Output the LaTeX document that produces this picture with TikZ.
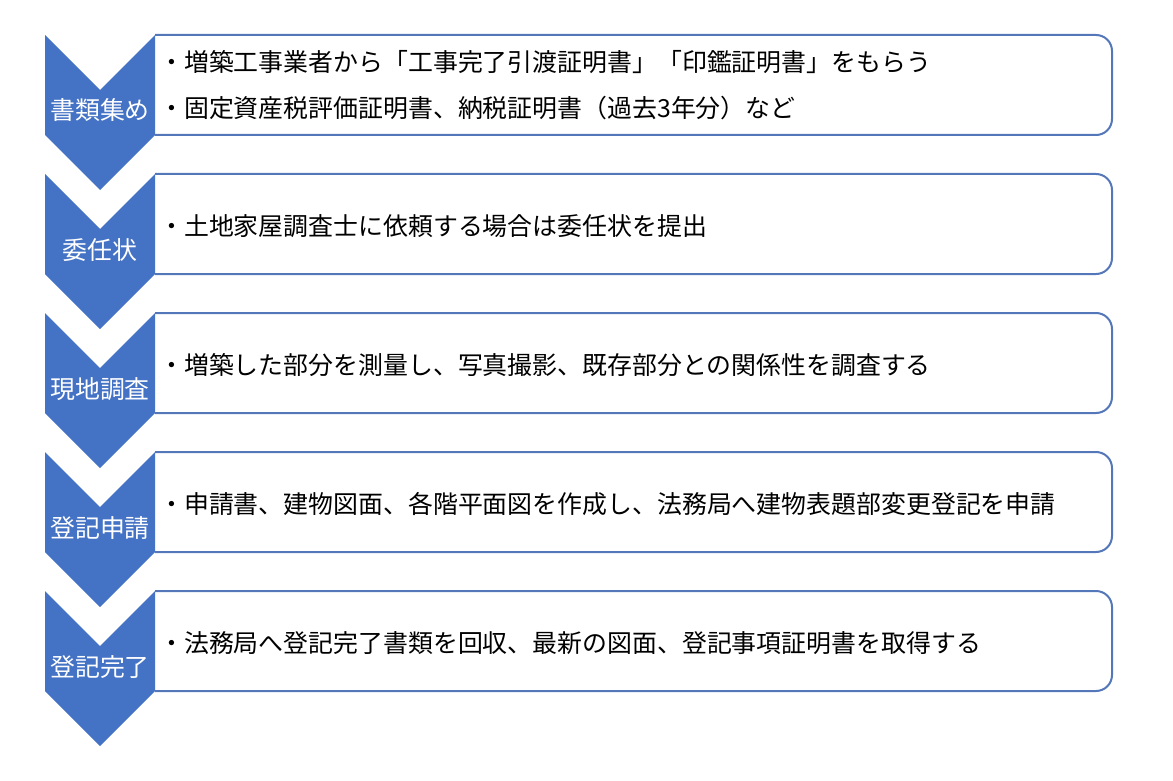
\documentclass[tikz,border=0pt]{standalone}
\usepackage{fontspec}
\newfontfamily\jpfont{Noto Sans CJK JP}
\definecolor{chevblue}{RGB}{68,114,196}
\definecolor{boxblue}{RGB}{84,119,186}

\begin{document}
\begin{tikzpicture}[x=1pt,y=-1pt,
    chevron/.style={fill=chevblue},
    descbox/.style={draw=boxblue, line width=2pt, rounded corners=16pt},
    steplabel/.style={anchor=base, text=white, inner sep=0pt, font=\jpfont\fontsize{24.9}{30}\selectfont},
    desctext/.style={anchor=base west, inner sep=0pt, font=\jpfont\fontsize{24.9}{30}\selectfont}]

\useasboundingbox (0,0) rectangle (1173,781);

\draw[descbox] (155,35)--(1112,35)--(1112,135)--(155,135);
\draw[descbox] (155,174)--(1112,174)--(1112,274)--(155,274);
\draw[descbox] (155,313)--(1112,313)--(1112,413)--(155,413);
\draw[descbox] (155,452)--(1112,452)--(1112,552)--(155,552);
\draw[descbox] (155,591)--(1112,591)--(1112,691)--(155,691);

\fill[chevron] (45,35)--(100,90)--(155,35)--(155,135)--(100,190)--(45,135)--cycle;
\fill[chevron] (45,174)--(100,229)--(155,174)--(155,274)--(100,329)--(45,274)--cycle;
\fill[chevron] (45,313)--(100,368)--(155,313)--(155,413)--(100,468)--(45,413)--cycle;
\fill[chevron] (45,452)--(100,507)--(155,452)--(155,552)--(100,607)--(45,552)--cycle;
\fill[chevron] (45,591)--(100,646)--(155,591)--(155,691)--(100,746)--(45,691)--cycle;

\node[steplabel] (label1) at (100,119.5) {書類集め};
\node[steplabel] (label2) at (100,259.5) {委任状};
\node[steplabel] (label3) at (100,398.5) {現地調査};
\node[steplabel] (label4) at (100,537.5) {登記申請};
\node[steplabel] (label5) at (100,676.5) {登記完了};

\node[desctext] (desc1a) at (159,71.5) {・増築工事業者から「工事完了引渡証明書」「印鑑証明書」をもらう};
\node[desctext] (desc1b) at (159,117.5) {・固定資産税評価証明書、納税証明書（過去3年分）など};
\node[desctext] (desc2) at (159,235) {・土地家屋調査士に依頼する場合は委任状を提出};
\node[desctext] (desc3) at (159,374) {・増築した部分を測量し、写真撮影、既存部分との関係性を調査する};
\node[desctext] (desc4) at (159,513) {・申請書、建物図面、各階平面図を作成し、法務局へ建物表題部変更登記を申請};
\node[desctext] (desc5) at (159,652) {・法務局へ登記完了書類を回収、最新の図面、登記事項証明書を取得する};

\end{tikzpicture}
\end{document}
